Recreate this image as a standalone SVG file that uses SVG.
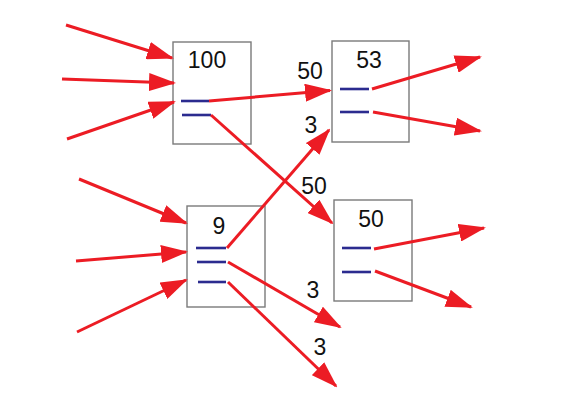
<svg xmlns="http://www.w3.org/2000/svg" width="561" height="400" viewBox="0 0 561 400">
<defs>
<style>
.box{fill:#fff;stroke:#7a7a7a;stroke-width:1.4}
.slot{stroke:#2b2b8f;stroke-width:2.6;fill:none}
.t{font-family:"Liberation Sans",Arial,sans-serif;font-size:23px;fill:#111;text-anchor:middle}
.c{stroke:#ec1c24;stroke-width:3;fill:none;marker-end:url(#ah)}
</style>
<marker id="ah" viewBox="0 0 27 18" refX="25" refY="9" markerWidth="27" markerHeight="18" markerUnits="userSpaceOnUse" orient="auto">
<path d="M0,0 L27,9 L0,18 Z" fill="#ec1c24"/>
</marker>
</defs>
<rect width="561" height="400" fill="#fff"/>
<g id="n100">
<rect class="box" x="173" y="42" width="78" height="102"/>
<text class="t" x="207" y="68">100</text>
<line class="slot" x1="181" y1="101" x2="209" y2="101"/>
<line class="slot" x1="182" y1="115" x2="211" y2="115"/>
</g>
<g id="n53">
<rect class="box" x="332" y="41" width="77" height="101"/>
<text class="t" x="369" y="68">53</text>
<line class="slot" x1="340" y1="89" x2="369" y2="89"/>
<line class="slot" x1="340" y1="112" x2="369" y2="112"/>
</g>
<g id="n9">
<rect class="box" x="187" y="206" width="78" height="101"/>
<text class="t" x="219" y="234">9</text>
<line class="slot" x1="196" y1="248" x2="226" y2="248"/>
<line class="slot" x1="197" y1="262" x2="226" y2="262"/>
<line class="slot" x1="198" y1="282" x2="226" y2="282"/>
</g>
<g id="n50">
<rect class="box" x="334" y="200" width="78" height="101"/>
<text class="t" x="371" y="227">50</text>
<line class="slot" x1="342" y1="248" x2="371" y2="248"/>
<line class="slot" x1="342" y1="272" x2="371" y2="272"/>
</g>
<g id="connectors">
<line class="c" x1="66" y1="25" x2="172" y2="58"/>
<line class="c" x1="62" y1="79" x2="174" y2="83"/>
<line class="c" x1="67" y1="139" x2="174" y2="102"/>
<line class="c" x1="209" y1="101" x2="330" y2="90.5"/>
<line class="c" x1="211" y1="115" x2="332" y2="223"/>
<line class="c" x1="227" y1="248" x2="329" y2="130"/>
<line class="c" x1="228" y1="262" x2="340" y2="327"/>
<line class="c" x1="228" y1="282" x2="336" y2="386"/>
<line class="c" x1="79" y1="179" x2="186" y2="223"/>
<line class="c" x1="76" y1="261" x2="186" y2="252"/>
<line class="c" x1="77" y1="332" x2="186" y2="280"/>
<line class="c" x1="372" y1="89" x2="480" y2="57"/>
<line class="c" x1="373" y1="112" x2="480" y2="131"/>
<line class="c" x1="374" y1="249" x2="484" y2="228"/>
<line class="c" x1="375" y1="271" x2="471" y2="307"/>
</g>
<g id="labels">
<text class="t" x="310" y="79">50</text>
<text class="t" x="311" y="133">3</text>
<text class="t" x="314" y="194">50</text>
<text class="t" x="313" y="298">3</text>
<text class="t" x="320" y="355">3</text>
</g>
</svg>
